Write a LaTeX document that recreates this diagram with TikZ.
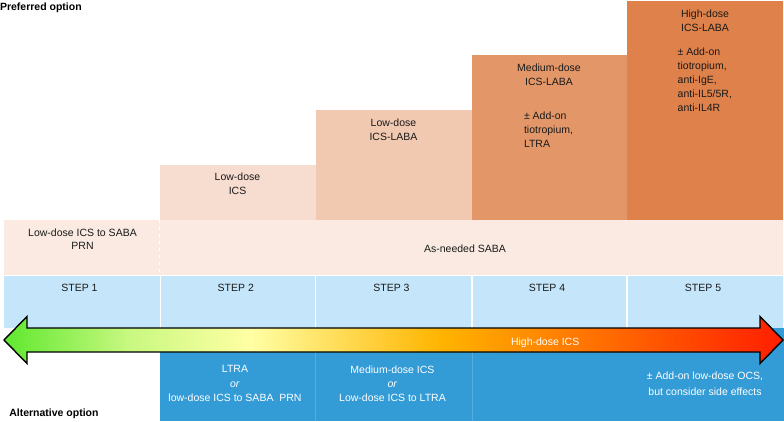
\documentclass[tikz,border=0pt]{standalone}
\usepackage{fontspec}
\setmainfont{Liberation Sans}
\definecolor{cICS}{HTML}{F7DDD0}
\definecolor{cRow}{HTML}{FAEAE1}
\definecolor{cLow}{HTML}{F1C9B1}
\definecolor{cMed}{HTML}{E39769}
\definecolor{cHigh}{HTML}{DE814A}
\definecolor{cLB}{HTML}{C5E6FA}
\definecolor{cDB}{HTML}{339BD6}
\definecolor{cDiv}{HTML}{55ADDF}
\definecolor{cTxt}{HTML}{1A1A1A}
\definecolor{aG}{HTML}{5FE82F}
\definecolor{aYG}{HTML}{C8F880}
\definecolor{aY}{HTML}{FFFFA4}
\definecolor{aO}{HTML}{FFB400}
\definecolor{aR}{HTML}{FF1E00}
\pgfdeclarehorizontalshading{arrowshade}{100bp}{color(0bp)=(aG); color(25bp)=(aG); color(33bp)=(aYG); color(40.8bp)=(aY); color(53bp)=(aO); color(75bp)=(aR); color(100bp)=(aR)}
\tikzset{
  box/.style={inner sep=0pt, outer sep=0pt, anchor=north west, draw=none},
  txt/.style={font=\fontsize{10.5pt}{14pt}\selectfont, inner sep=0pt, outer sep=0pt, align=center, text=cTxt},
  wtxt/.style={txt, text=white},
  lbl/.style={font=\fontsize{10.5pt}{13pt}\selectfont\bfseries, inner sep=0pt, outer sep=0pt, text=black},
}
\begin{document}
\begin{tikzpicture}[x=1pt, y=-1pt]
\useasboundingbox (0,0) rectangle (784,421);
% top boxes
\node[box, fill=cICS, minimum width=155.5pt, minimum height=55pt] (b2) at (160,165) {};
\node[box, fill=cLow, minimum width=156.5pt, minimum height=110pt] (b3) at (315.5,110) {};
\node[box, fill=cMed, minimum width=155pt, minimum height=165pt] (b4) at (472,55) {};
\node[box, fill=cHigh, minimum width=156pt, minimum height=219pt] (b5) at (627,1) {};
% as-needed row
\node[box, fill=cRow, minimum width=155.5pt, minimum height=54.5pt] (p1) at (4,220) {};
\node[box, fill=cRow, minimum width=623.5pt, minimum height=54.5pt] (p2) at (159.5,220) {};
\draw[white, line width=1.5pt, dash pattern=on 3pt off 4pt] (p1.north east) -- (p1.south east);
% dark blue alternative row
\node[box, fill=cDB, minimum width=155.5pt, minimum height=93pt] (d2) at (160,328) {};
\node[box, fill=cDB, minimum width=156.5pt, minimum height=93pt] (d3) at (315.5,328) {};
\node[box, fill=cDB, minimum width=312pt, minimum height=93pt] (d5) at (472,328) {};
\draw[cDiv, line width=0.7pt] (d2.north east) -- (d2.south east);
\draw[cDiv, line width=0.7pt] (d3.north east) -- (d3.south east);
% step row
\node[box, fill=cLB, minimum width=155.5pt, minimum height=52pt] (s1) at (4,275.5) {};
\node[box, fill=cLB, minimum width=153.2pt, minimum height=52pt] (s2) at (161.3,275.5) {};
\node[box, fill=cLB, minimum width=154.7pt, minimum height=52pt] (s3) at (316.3,275.5) {};
\node[box, fill=cLB, minimum width=153pt, minimum height=52pt] (s4) at (473,275.5) {};
\node[box, fill=cLB, minimum width=154.5pt, minimum height=52pt] (s5) at (628,275.5) {};
% arrow
\draw[shading=arrowshade, draw=black, line width=1.4pt]
  (4,340) -- (27,316.5) -- (27,328) -- (760,328) -- (760,316.5) -- (783,340)
  -- (760,363.5) -- (760,352) -- (27,352) -- (27,363.5) -- cycle;
% texts
\node[lbl, anchor=base west] (pref) at (0,10.3) {Preferred option};
\node[lbl, anchor=base west] (alt) at (9.3,416) {Alternative option};
\node[txt, anchor=north] (t2) at (237.5,173.2) {Low-dose\\ICS};
\node[txt, anchor=north] (t3) at (393.5,118.9) {Low-dose\\ICS-LABA};
\node[txt, anchor=north] (t4) at (549,63.9) {Medium-dose\\ICS-LABA};
\node[txt, anchor=north west, align=left] (t4b) at (524,111.9) {± Add-on\\tiotropium,\\LTRA};
\node[txt, anchor=north] (t5) at (705,9.5) {High-dose\\ICS-LABA};
\node[txt, anchor=north west, align=left] (t5b) at (677.7,47.9) {± Add-on\\tiotropium,\\anti-IgE,\\anti-IL5/5R,\\anti-IL4R};
\node[txt, anchor=north, font=\fontsize{10.5pt}{13pt}\selectfont] (t1) at (82.5,228.9) {Low-dose ICS to SABA\\PRN};
\node[txt, anchor=base] (asn) at (465,252) {As-needed SABA};
\node[txt, anchor=base] (st1) at (79.5,291.1) {STEP 1};
\node[txt, anchor=base] (st2) at (235.8,291.1) {STEP 2};
\node[txt, anchor=base] (st3) at (391.5,291.1) {STEP 3};
\node[txt, anchor=base] (st4) at (547,291.1) {STEP 4};
\node[txt, anchor=base] (st5) at (703,291.1) {STEP 5};
\node[wtxt, anchor=base] (hd) at (545.2,345.5) {High-dose ICS};
\node[wtxt, anchor=north, font=\fontsize{10.5pt}{14.3pt}\selectfont] (a2) at (235,365.5) {LTRA\\\textit{or}\\low-dose ICS to SABA\ \ PRN};
\node[wtxt, anchor=north, font=\fontsize{10.5pt}{14.3pt}\selectfont] (a3) at (392.5,365.5) {Medium-dose ICS\\\textit{or}\\Low-dose ICS to LTRA};
\node[wtxt, anchor=north, font=\fontsize{10.5pt}{15.7pt}\selectfont] (a5) at (705,372.2) {± Add-on low-dose OCS,\\but consider side effects};
\end{tikzpicture}
\end{document}
